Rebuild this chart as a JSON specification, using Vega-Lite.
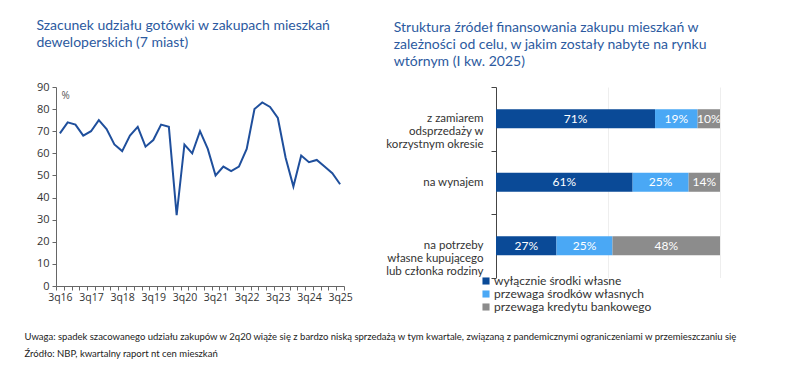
{
  "$schema": "https://vega.github.io/schema/vega-lite/v6.json",
  "background": "white",
  "padding": {"left": 24, "top": 19, "right": 5, "bottom": 5},
  "config": {"view": {"stroke": null}, "font": "Lato", "concat": {"spacing": 32}},
  "resolve": {"legend": {"color": "independent"}},
  "title": {
    "text": ["Uwaga: spadek szacowanego udziału zakupów w 2q20 wiąże się z bardzo niską sprzedażą w tym kwartale, związaną z pandemicznymi ograniczeniami w przemieszczaniu się", "Źródło: NBP, kwartalny raport nt cen mieszkań"],
    "orient": "bottom", "anchor": "start", "frame": "bounds", "fontSize": 9.5, "fontWeight": "normal", "color": "#222222", "lineHeight": 17, "offset": 19, "dx": -12, "font": "Lato"
  },
  "datasets": {
    "gotowka": [
      {"q": "3q16", "v": 69}, {"q": "4q16", "v": 74}, {"q": "1q17", "v": 73}, {"q": "2q17", "v": 68},
      {"q": "3q17", "v": 70}, {"q": "4q17", "v": 75}, {"q": "1q18", "v": 71}, {"q": "2q18", "v": 64},
      {"q": "3q18", "v": 61}, {"q": "4q18", "v": 68}, {"q": "1q19", "v": 72}, {"q": "2q19", "v": 63},
      {"q": "3q19", "v": 66}, {"q": "4q19", "v": 73}, {"q": "1q20", "v": 72}, {"q": "2q20", "v": 32},
      {"q": "3q20", "v": 64}, {"q": "4q20", "v": 60}, {"q": "1q21", "v": 70}, {"q": "2q21", "v": 62},
      {"q": "3q21", "v": 50}, {"q": "4q21", "v": 54}, {"q": "1q22", "v": 52}, {"q": "2q22", "v": 54},
      {"q": "3q22", "v": 62}, {"q": "4q22", "v": 80}, {"q": "1q23", "v": 83}, {"q": "2q23", "v": 81},
      {"q": "3q23", "v": 76}, {"q": "4q23", "v": 58}, {"q": "1q24", "v": 45}, {"q": "2q24", "v": 59},
      {"q": "3q24", "v": 56}, {"q": "4q24", "v": 57}, {"q": "1q25", "v": 54}, {"q": "2q25", "v": 51},
      {"q": "3q25", "v": 46}
    ],
    "struktura": [
      {"cel": "z zamiarem|odsprzedaży w|korzystnym okresie", "typ": "wyłącznie środki własne", "o": 1, "v": 0.71},
      {"cel": "z zamiarem|odsprzedaży w|korzystnym okresie", "typ": "przewaga środków własnych", "o": 2, "v": 0.19},
      {"cel": "z zamiarem|odsprzedaży w|korzystnym okresie", "typ": "przewaga kredytu bankowego", "o": 3, "v": 0.10},
      {"cel": "na wynajem", "typ": "wyłącznie środki własne", "o": 1, "v": 0.61},
      {"cel": "na wynajem", "typ": "przewaga środków własnych", "o": 2, "v": 0.25},
      {"cel": "na wynajem", "typ": "przewaga kredytu bankowego", "o": 3, "v": 0.14},
      {"cel": "na potrzeby|własne kupującego|lub członka rodziny", "typ": "wyłącznie środki własne", "o": 1, "v": 0.27},
      {"cel": "na potrzeby|własne kupującego|lub członka rodziny", "typ": "przewaga środków własnych", "o": 2, "v": 0.25},
      {"cel": "na potrzeby|własne kupującego|lub członka rodziny", "typ": "przewaga kredytu bankowego", "o": 3, "v": 0.48}
    ]
  },
  "hconcat": [
    {
      "width": 288,
      "height": 199,
      "title": {
        "text": ["Szacunek udziału gotówki w zakupach mieszkań", "deweloperskich (7 miast)"],
        "anchor": "start", "frame": "bounds", "fontSize": 14, "fontWeight": "normal", "color": "#2c5aa0", "lineHeight": 17, "offset": 31, "font": "Lato"
      },
      "data": {"name": "gotowka"},
      "mark": {"type": "line", "color": "#1f4f9c", "strokeWidth": 2},
      "encoding": {
        "x": {
          "field": "q", "type": "ordinal", "sort": null,
          "scale": {"type": "band", "paddingInner": 0, "paddingOuter": 0},
          "axis": {
            "title": null, "tickBand": "extent", "labelAngle": 0,
            "labelExpr": "indexof(datum.label, '3q') == 0 ? datum.label : ''",
            "labelOverlap": false, "labelFont": "Open Sans", "labelFontSize": 10.5, "labelColor": "#333333",
            "domainColor": "#666666", "tickColor": "#666666", "tickSize": 4, "labelPadding": 2
          }
        },
        "y": {
          "field": "v", "type": "quantitative", "scale": {"domain": [0, 90]},
          "axis": {
            "title": "%", "titleAngle": 0, "titleX": 5, "titleY": 3, "titleAlign": "left", "titleBaseline": "top",
            "titleFont": "Open Sans", "titleFontSize": 10, "titleFontWeight": "normal", "titleColor": "#555555",
            "values": [0, 10, 20, 30, 40, 50, 60, 70, 80, 90], "grid": false,
            "labelFont": "Open Sans", "labelFontSize": 11, "labelColor": "#333333",
            "domainColor": "#666666", "tickColor": "#666666", "tickSize": 4, "labelPadding": 3
          }
        }
      }
    },
    {
      "width": 224,
      "height": 190.5,
      "title": {
        "text": ["Struktura źródeł finansowania zakupu mieszkań w", "zależności od celu, w jakim zostały nabyte na rynku", "wtórnym (I kw. 2025)"],
        "anchor": "start", "frame": "bounds", "fontSize": 14, "fontWeight": "normal", "color": "#2c5aa0", "lineHeight": 17, "offset": 12, "dx": 8, "font": "Lato"
      },
      "data": {"name": "struktura"},
      "encoding": {
        "y": {
          "field": "cel", "type": "nominal", "sort": null,
          "scale": {"type": "band", "paddingInner": 0, "paddingOuter": 0},
          "axis": {
            "title": null, "tickBand": "extent", "labelExpr": "split(datum.label, '|')",
            "labelLineHeight": 13, "labelFontSize": 11.5, "labelColor": "#333333", "labelFont": "Lato",
            "domainColor": "#444444", "tickColor": "#444444", "tickSize": 5, "labelPadding": 8, "grid": false
          }
        }
      },
      "layer": [
        {
          "mark": {"type": "bar", "height": {"band": 0.3}},
          "encoding": {
            "x": {
              "field": "v", "type": "quantitative", "stack": "zero", "scale": {"domain": [0, 1]},
              "axis": {"values": [0.5, 1], "labels": false, "ticks": false, "domain": false, "grid": true, "gridColor": "#eeeeee", "title": null}
            },
            "color": {
              "field": "typ", "type": "nominal",
              "scale": {
                "domain": ["wyłącznie środki własne", "przewaga środków własnych", "przewaga kredytu bankowego"],
                "range": ["#0a4a97", "#4aa8f5", "#8c8c8c"]
              },
              "legend": {
                "title": null, "orient": "none", "legendX": -16, "legendY": 188, "direction": "vertical",
                "symbolType": "square", "symbolSize": 50, "symbolStrokeWidth": 0, "labelLimit": 300,
                "labelFontSize": 12, "labelFont": "Lato", "labelColor": "#333333", "rowPadding": 1, "labelOffset": 2
              }
            },
            "order": {"field": "o", "type": "quantitative"}
          }
        },
        {
          "mark": {"type": "text", "color": "white", "fontSize": 12, "font": "Lato"},
          "encoding": {
            "x": {"field": "v", "type": "quantitative", "stack": "zero", "bandPosition": 0.5},
            "text": {"field": "v", "type": "quantitative", "format": ".0%"},
            "detail": {"field": "typ", "type": "nominal"},
            "order": {"field": "o", "type": "quantitative"}
          }
        }
      ]
    }
  ]
}
